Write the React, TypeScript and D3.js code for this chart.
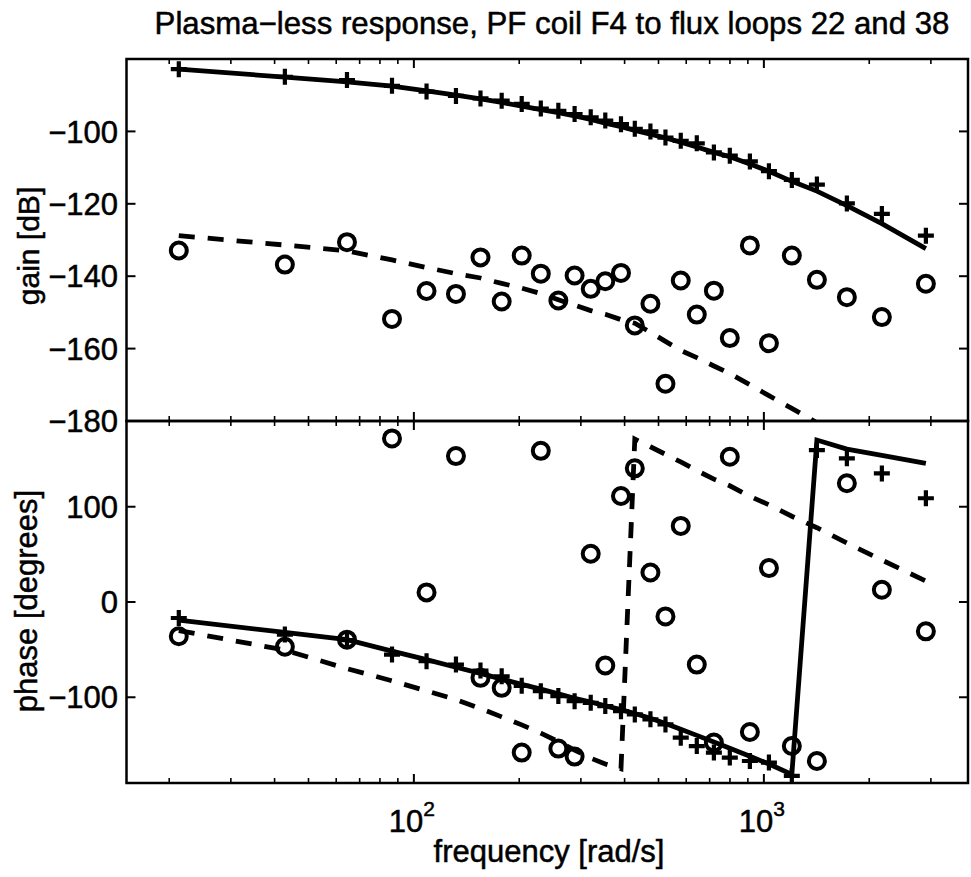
import React from "react";
import * as d3 from "d3";

// ---- data ----
const FREQ = [21.3, 42.8, 64.4, 86.6, 108.7, 131.9, 155, 178.2, 203.3, 230.5, 258.7, 287.9, 320.1, 352.3, 390.6, 427.8, 474.1, 523.4, 578.8, 643.2, 719.7, 799.2, 912, 1033.8, 1201.9, 1417.3, 1726.3, 2173.2, 2903];

const GAIN22_MEAS = [-82.8, -84.9, -85.8, -87.4, -89.0, -90.2, -90.9, -91.5, -92.4, -93.7, -94.3, -95.2, -96.1, -97.0, -98.0, -99.3, -100.0, -101.7, -102.6, -103.3, -105.8, -106.7, -108.3, -111.0, -113.4, -114.7, -119.9, -122.8, -128.8];
const GAIN22_MODEL = [-82.8, -85, -86.3, -87.5, -88.8, -90, -91, -92, -93, -94, -94.8, -95.7, -96.7, -97.7, -98.7, -99.7, -100.8, -101.8, -103, -104.3, -105.8, -107, -109, -111, -113.8, -116.5, -120.5, -125.5, -132.4];
const GAIN38_MEAS = [-132.9, -136.8, -130.6, -151.8, -144.1, -144.9, -134.8, -147.0, -134.3, -139.3, -146.7, -139.8, -143.5, -141.4, -139.1, -153.6, -147.6, -169.7, -141.2, -150.6, -144.0, -157.1, -131.5, -158.5, -134.3, -141.0, -145.8, -151.3, -142.1];
const GAIN38_MODEL = [-128.8, -131.4, -133, -135.5, -137.6, -139.3, -140.5, -142, -143.3, -144.8, -146.5, -148, -149.5, -150.5, -152, -153, -155.5, -158, -160.5, -162.5, -164.8, -166.9, -170, -173, -176.5, -180.5, -186, -192, -199];

const PHASE22_MEAS = [-16.8, -34.2, -40, -55.2, -62.2, -65.7, -72, -78, -88, -93.6, -98.8, -104.1, -105.8, -109.3, -114.6, -118, -123.2, -128.5, -142.4, -151.2, -158.1, -163.3, -166.9, -168.6, -182.6, 159.5, 150.8, 135, 108.9];
const PHASE22_MODEL = [-19, -31.9, -39.5, -51.5, -60.5, -68.5, -75, -81, -86.5, -91.5, -96.5, -101, -105, -109, -113, -117, -122, -127.5, -133.5, -140, -147, -153.5, -162, -170, -181, 170, 160.5, 154, 145.5];
const PHASE38_MEAS = [-36, -47, -39.5, 171.7, 10.1, 153.2, -79.6, -90.1, -158.1, 158.7, -153.9, -162.3, 50.6, -66.7, 111.3, 140.3, 31, -15.1, 79.9, -65.7, -147.6, 152.5, -136.5, 35.6, -151.2, -166.9, 124.6, 12.9, -30.8];
const PHASE38_MODEL = [-30, -50.5, -70, -82.7, -93.3, -102.4, -111.8, -120.6, -129, -137.7, -146.6, -155.5, -163.9, -170, -175, 171, 163, 155, 147, 138, 129, 122, 111, 102, 90, 78, 62, 44, 22];

const GAIN_TICKS = [-180, -160, -140, -120, -100];
const PHASE_TICKS = [-100, 0, 100];
const X_MAJOR = [100, 1000];
const X_LABEL_EXP = ["2", "3"];
const X_MINOR = [20, 30, 40, 50, 60, 70, 80, 90, 200, 300, 400, 500, 600, 700, 800, 900, 2000, 3000];

const TITLE = "Plasma\u2212less response, PF coil F4 to flux loops 22 and 38";
const GAIN_LABEL = "gain [dB]";
const PHASE_LABEL = "phase [degrees]";
const X_LABEL = "frequency [rad/s]";

const W = 971, H = 877;
const L = 126.5, R = 968, T = 59, MID = 421, B = 783;
const FONT = "'Liberation Sans', Arial, Helvetica, sans-serif";
const FS = 31;

const fmt = (v: number) => (v < 0 ? "\u2212" + Math.abs(v) : String(v));

export default function App() {
  const x = d3.scaleLog().domain([15.1, 3830]).range([L, R]);
  const yG = d3.scaleLinear().domain([-180, -80]).range([MID, T]);
  const yP = d3.scaleLinear().domain([-190, 190]).range([B, MID]);

  const lineG = (vals: number[]) =>
    d3.line<number>().x((_, i) => x(FREQ[i])).y((v) => yG(v))(vals) || "";
  const lineP = (vals: number[]) =>
    d3.line<number>().x((_, i) => x(FREQ[i])).y((v) => yP(v))(vals) || "";

  const plus = (cx: number, cy: number, key: string) => (
    <path key={key} d={`M${cx - 8},${cy}H${cx + 8}M${cx},${cy - 8}V${cy + 8}`} stroke="#000" strokeWidth={4.2} fill="none" />
  );
  const circ = (cx: number, cy: number, key: string) => (
    <circle key={key} cx={cx} cy={cy} r={8} stroke="#000" strokeWidth={4} fill="none" />
  );

  const MAJ = 9, MIN = 5;
  const txt = { fill: "#000", stroke: "#000", strokeWidth: 0.5 } as const;

  const xTicks = (yTop: number, yBot: number, k: string) => (
    <g key={k}>
      {X_MAJOR.map((f, i) => (
        <g key={"M" + i}>
          <line x1={x(f)} x2={x(f)} y1={yTop} y2={yTop + MAJ} stroke="#000" strokeWidth={2} />
          <line x1={x(f)} x2={x(f)} y1={yBot} y2={yBot - MAJ} stroke="#000" strokeWidth={2} />
        </g>
      ))}
      {X_MINOR.map((f, i) => (
        <g key={"m" + i}>
          <line x1={x(f)} x2={x(f)} y1={yTop} y2={yTop + MIN} stroke="#000" strokeWidth={1.6} />
          <line x1={x(f)} x2={x(f)} y1={yBot} y2={yBot - MIN} stroke="#000" strokeWidth={1.6} />
        </g>
      ))}
    </g>
  );

  return (
    <svg width={W} height={H} style={{ position: "absolute", left: 0, top: 0, background: "#fff" }} fontFamily={FONT}>
      <defs>
        <clipPath id="clipG"><rect x={L} y={T} width={R - L} height={MID - T} /></clipPath>
        <clipPath id="clipP"><rect x={L} y={MID} width={R - L} height={B - MID} /></clipPath>
      </defs>
      <rect x={0} y={0} width={W} height={H} fill="#fff" />

      {/* title */}
      <text x={552} y={34} textAnchor="middle" fontSize={31.2} {...txt}>{TITLE}</text>

      {/* gain panel */}
      <g clipPath="url(#clipG)">
        <path d={lineG(GAIN22_MODEL)} fill="none" stroke="#000" strokeWidth={4.8} />
        <path d={lineG(GAIN38_MODEL)} fill="none" stroke="#000" strokeWidth={4.8} strokeDasharray="16,13" />
        {GAIN22_MEAS.map((v, i) => plus(x(FREQ[i]), yG(v), "gp" + i))}
        {GAIN38_MEAS.map((v, i) => circ(x(FREQ[i]), yG(v), "gc" + i))}
      </g>

      {/* phase panel */}
      <g clipPath="url(#clipP)">
        <path d={lineP(PHASE22_MODEL)} fill="none" stroke="#000" strokeWidth={4.8} />
        <path d={lineP(PHASE38_MODEL)} fill="none" stroke="#000" strokeWidth={4.8} strokeDasharray="16,13" />
        {PHASE22_MEAS.map((v, i) => plus(x(FREQ[i]), yP(v), "pp" + i))}
        {PHASE38_MEAS.map((v, i) => circ(x(FREQ[i]), yP(v), "pc" + i))}
      </g>

      {/* frames */}
      <rect x={L} y={T} width={R - L} height={MID - T} fill="none" stroke="#000" strokeWidth={2.5} />
      <rect x={L} y={MID} width={R - L} height={B - MID} fill="none" stroke="#000" strokeWidth={2.5} />

      {xTicks(T, MID, "xg")}
      {xTicks(MID, B, "xp")}

      {/* gain y ticks */}
      {GAIN_TICKS.map((v, i) => (
        <g key={"gt" + i}>
          <line x1={L} x2={L + MAJ} y1={yG(v)} y2={yG(v)} stroke="#000" strokeWidth={2} />
          <line x1={R} x2={R - MAJ} y1={yG(v)} y2={yG(v)} stroke="#000" strokeWidth={2} />
          <text x={118} y={yG(v)} dy="0.36em" textAnchor="end" fontSize={FS} {...txt}>{fmt(v)}</text>
        </g>
      ))}
      {/* phase y ticks */}
      {PHASE_TICKS.map((v, i) => (
        <g key={"pt" + i}>
          <line x1={L} x2={L + MAJ} y1={yP(v)} y2={yP(v)} stroke="#000" strokeWidth={2} />
          <line x1={R} x2={R - MAJ} y1={yP(v)} y2={yP(v)} stroke="#000" strokeWidth={2} />
          <text x={118} y={yP(v)} dy="0.36em" textAnchor="end" fontSize={FS} {...txt}>{fmt(v)}</text>
        </g>
      ))}

      {/* x tick labels */}
      {X_MAJOR.map((f, i) => (
        <text key={"xl" + i} x={x(f) - 2} y={832} textAnchor="middle" fontSize={FS} {...txt}>
          <tspan>10</tspan>
          <tspan dy={-16} fontSize={21}>{X_LABEL_EXP[i]}</tspan>
        </text>
      ))}

      {/* axis labels */}
      <text x={549} y={862} textAnchor="middle" fontSize={FS} {...txt}>{X_LABEL}</text>
      <text transform={`translate(39,${(T + MID) / 2 + 6}) rotate(-90)`} textAnchor="middle" fontSize={30} {...txt}>{GAIN_LABEL}</text>
      <text transform={`translate(37,${601}) rotate(-90)`} textAnchor="middle" fontSize={FS} {...txt}>{PHASE_LABEL}</text>
    </svg>
  );
}
